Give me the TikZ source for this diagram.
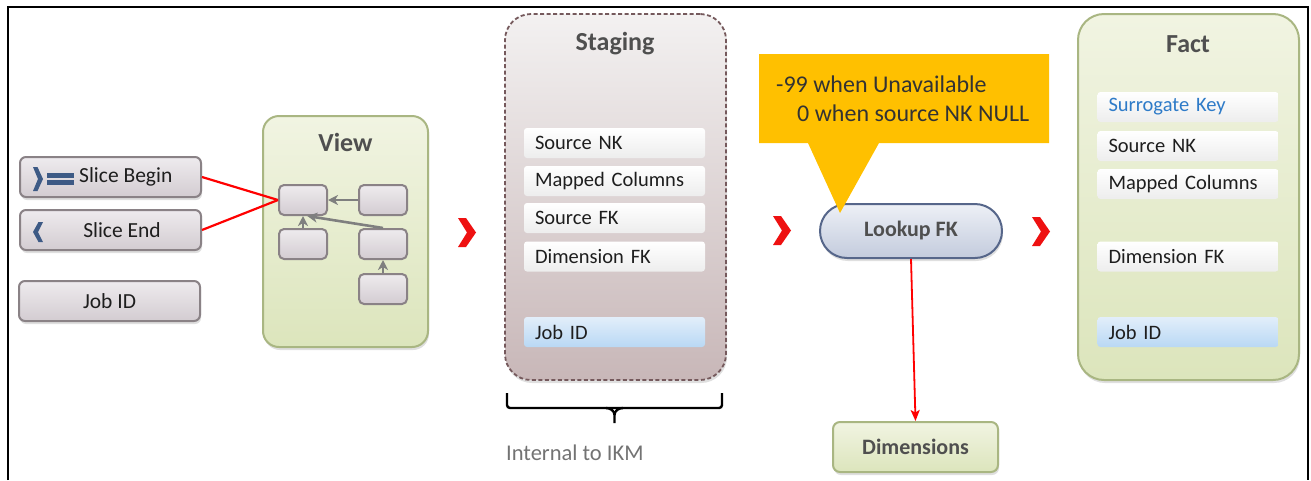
\documentclass[tikz,border=0pt]{standalone}
\usepackage{fontspec}
\setmainfont{Carlito}
\usetikzlibrary{shadows,arrows.meta,calc}
\definecolor{graytop}{HTML}{EEEBEE}
\definecolor{graybot}{HTML}{D3CCD1}
\definecolor{grayborder}{HTML}{8A8286}
\definecolor{greentop}{HTML}{F1F4E2}
\definecolor{greenbot}{HTML}{DCE5BC}
\definecolor{greenborder}{HTML}{A9B682}
\definecolor{stagetop}{HTML}{F3F1F1}
\definecolor{stagebot}{HTML}{C8B7B8}
\definecolor{stageborder}{HTML}{75595C}
\definecolor{rowbot}{HTML}{EDEDED}
\definecolor{bluetop}{HTML}{E2EEFA}
\definecolor{bluebot}{HTML}{B9D8F4}
\definecolor{lktop}{HTML}{EDF0F6}
\definecolor{lkbot}{HTML}{C3CBDD}
\definecolor{lkborder}{HTML}{56668A}
\definecolor{calloutyellow}{HTML}{FFC000}
\definecolor{chevred}{HTML}{EE1111}
\definecolor{icoblue}{HTML}{3D5A85}
\definecolor{titlegray}{HTML}{4F4F4F}
\definecolor{textdark}{HTML}{1E1E1E}
\definecolor{arrowgray}{HTML}{7F7F7F}
\definecolor{skblue}{HTML}{2E7BC8}
\tikzset{
  softshadow/.style={drop shadow={shadow xshift=1pt,shadow yshift=-3pt,opacity=0.25}},
  graybox/.style={draw=grayborder, line width=2pt, rounded corners=6pt,
    top color=graytop, bottom color=graybot, minimum width=181pt, minimum height=40pt,
    inner sep=0pt, softshadow},
  minibox/.style={draw=grayborder, line width=2pt, rounded corners=5pt,
    top color=graytop, bottom color=graybot, minimum width=48pt, minimum height=30pt,
    inner sep=0pt},
  greenpanel/.style={draw=greenborder, line width=2pt, top color=greentop,
    bottom color=greenbot, inner sep=0pt, softshadow},
  stagepanel/.style={draw=stageborder, line width=1.8pt, dash pattern=on 4pt off 2.5pt,
    top color=stagetop, bottom color=stagebot, rounded corners=26pt,
    minimum width=221pt, minimum height=366pt, inner sep=0pt, softshadow},
  rowbox/.style={rounded corners=3pt, top color=white, bottom color=rowbot,
    minimum width=181pt, minimum height=30pt, text width=159pt, inner xsep=11pt,
    inner ysep=0pt, align=left, font=\fontsize{20.5}{24}\selectfont, text=textdark},
  bluerow/.style={rowbox, top color=bluetop, bottom color=bluebot},
  titletext/.style={font=\bfseries\fontsize{26}{30}\selectfont, text=titlegray, inner sep=0pt},
  boxtext/.style={font=\fontsize{21.5}{25}\selectfont, text=textdark, inner sep=0pt},
  redline/.style={draw=red, line width=2.2pt},
  grayarrow/.style={draw=arrowgray, line width=2.6pt, -{Stealth[length=10pt,width=10pt,inset=3pt]}},
  chev/.pic={\fill[chevred] (0,0) -- (8,0) -- (18,14.5) -- (8,29) -- (0,29) -- (9,14.5) -- cycle;}
}
\begin{document}
\begin{tikzpicture}[x=1pt,y=-1pt]
\useasboundingbox (0,0) rectangle (1311,480);
\fill[white] (0,0) rectangle (1311,480);
% frame
\draw[line width=1.6pt] (8,480) -- (8,7) -- (1308,7) -- (1308,480);

% left inputs
\node[graybox] (sb) at (110.5,177) {};
\node[boxtext, anchor=west] (sbt) at (79,177) {Slice Begin};
\node[graybox] (se) at (110.5,230) {};
\node[boxtext] (set) at (122,230) {Slice End};
\node[graybox] (jid) at (109.5,301) {};
\node[boxtext] (jidt) at (109.5,301) {Job ID};
% icons
\fill[icoblue] (33,167) -- (37.5,167) -- (43,179) -- (37.5,191) -- (33,191) -- (38,179) -- cycle;
\fill[icoblue] (47,173) rectangle (74,177.5);
\fill[icoblue] (47,180) rectangle (74,184.5);
\fill[icoblue] (43,222) -- (38.5,222) -- (33,232) -- (38.5,242) -- (43,242) -- (38,232) -- cycle;

% view
\node[greenpanel, rounded corners=16pt, minimum width=165pt, minimum height=231pt] (view) at (345.5,231.5) {};
\node[titletext] (viewt) at (345.5,142) {View};
\node[minibox] (va) at (303,200) {};
\node[minibox] (vb) at (383,200) {};
\node[minibox] (vc) at (303,244) {};
\node[minibox] (vd) at (383,244) {};
\node[minibox] (ve) at (383,289) {};
\draw[grayarrow] (vb.west) -- (va.east);
\draw[grayarrow] (vd.north) -- (va.-75);
\draw[grayarrow] (vc.north) -- (va.south);
\draw[grayarrow] (ve.north) -- (vd.south);
\draw[redline] (sb.east) -- (va.west);
\draw[redline] (se.east) -- (va.west);

% chevrons
\pic at (458,218) {chev};
\pic at (773,216) {chev};
\pic at (1032,217) {chev};

% staging
\node[stagepanel] (stg) at (615.5,197) {};
\node[titletext] (stgt) at (615,44) {Staging};
\node[rowbox] (s1) at (614.5,143) {Source NK};
\node[rowbox] (s2) at (614.5,181) {Mapped Columns};
\node[rowbox] (s3) at (614.5,218) {Source FK};
\node[rowbox] (s4) at (614.5,256.5) {Dimension FK};
\node[bluerow] (s5) at (614.5,332) {Job ID};
% brace
\draw[line width=2.4pt, rounded corners=3pt] (507,393) -- (507,408) -- (722,408) -- (722,393);
\draw[line width=2.4pt] (606,408) to[out=0,in=90] (614.5,415) -- (614.5,423);
\draw[line width=2.4pt] (623,408) to[out=180,in=90] (614.5,415);
\node[anchor=west, inner sep=0pt, font=\fontsize{22.5}{26}\selectfont, text=black!55] (ikm) at (506,453) {Internal to IKM};

% lookup
\node[draw=lkborder, line width=2pt, rounded corners=27pt, top color=lktop, bottom color=lkbot,
  minimum width=182pt, minimum height=54pt, inner sep=0pt, softshadow,
  font=\bfseries\fontsize{22}{26}\selectfont, text=titlegray] (lk) at (911,231) {Lookup FK};
\node[greenpanel, rounded corners=7pt, minimum width=165pt, minimum height=50pt,
  font=\bfseries\fontsize{22}{26}\selectfont, text=titlegray] (dim) at (915.5,447) {Dimensions};
\draw[redline, line width=1.8pt, -{Stealth[length=11pt,width=9pt,inset=2.5pt]}] (lk.south) -- (dim.north);

% callout
\fill[calloutyellow] (759,54) -- (1049,54) -- (1049,143) -- (879,143) -- (840,213) -- (808,143) -- (759,143) -- cycle;
\node[anchor=west, inner sep=0pt, font=\fontsize{24}{28}\selectfont, text=black!80] (c1) at (776,84) {-99 when Unavailable};
\node[anchor=west, inner sep=0pt, font=\fontsize{24}{28}\selectfont, text=black!80] (c2) at (797,113) {0 when source NK NULL};

% fact
\node[greenpanel, rounded corners=26pt, minimum width=221pt, minimum height=366pt] (fact) at (1188.5,197) {};
\node[titletext] (factt) at (1188,44) {Fact};
\node[rowbox, text=skblue] (f1) at (1188,107) {Surrogate Key};
\node[rowbox] (f2) at (1188,146) {Source NK};
\node[rowbox] (f3) at (1188,184) {Mapped Columns};
\node[rowbox] (f4) at (1188,256.5) {Dimension FK};
\node[bluerow] (f5) at (1188,332) {Job ID};
\end{tikzpicture}
\end{document}
